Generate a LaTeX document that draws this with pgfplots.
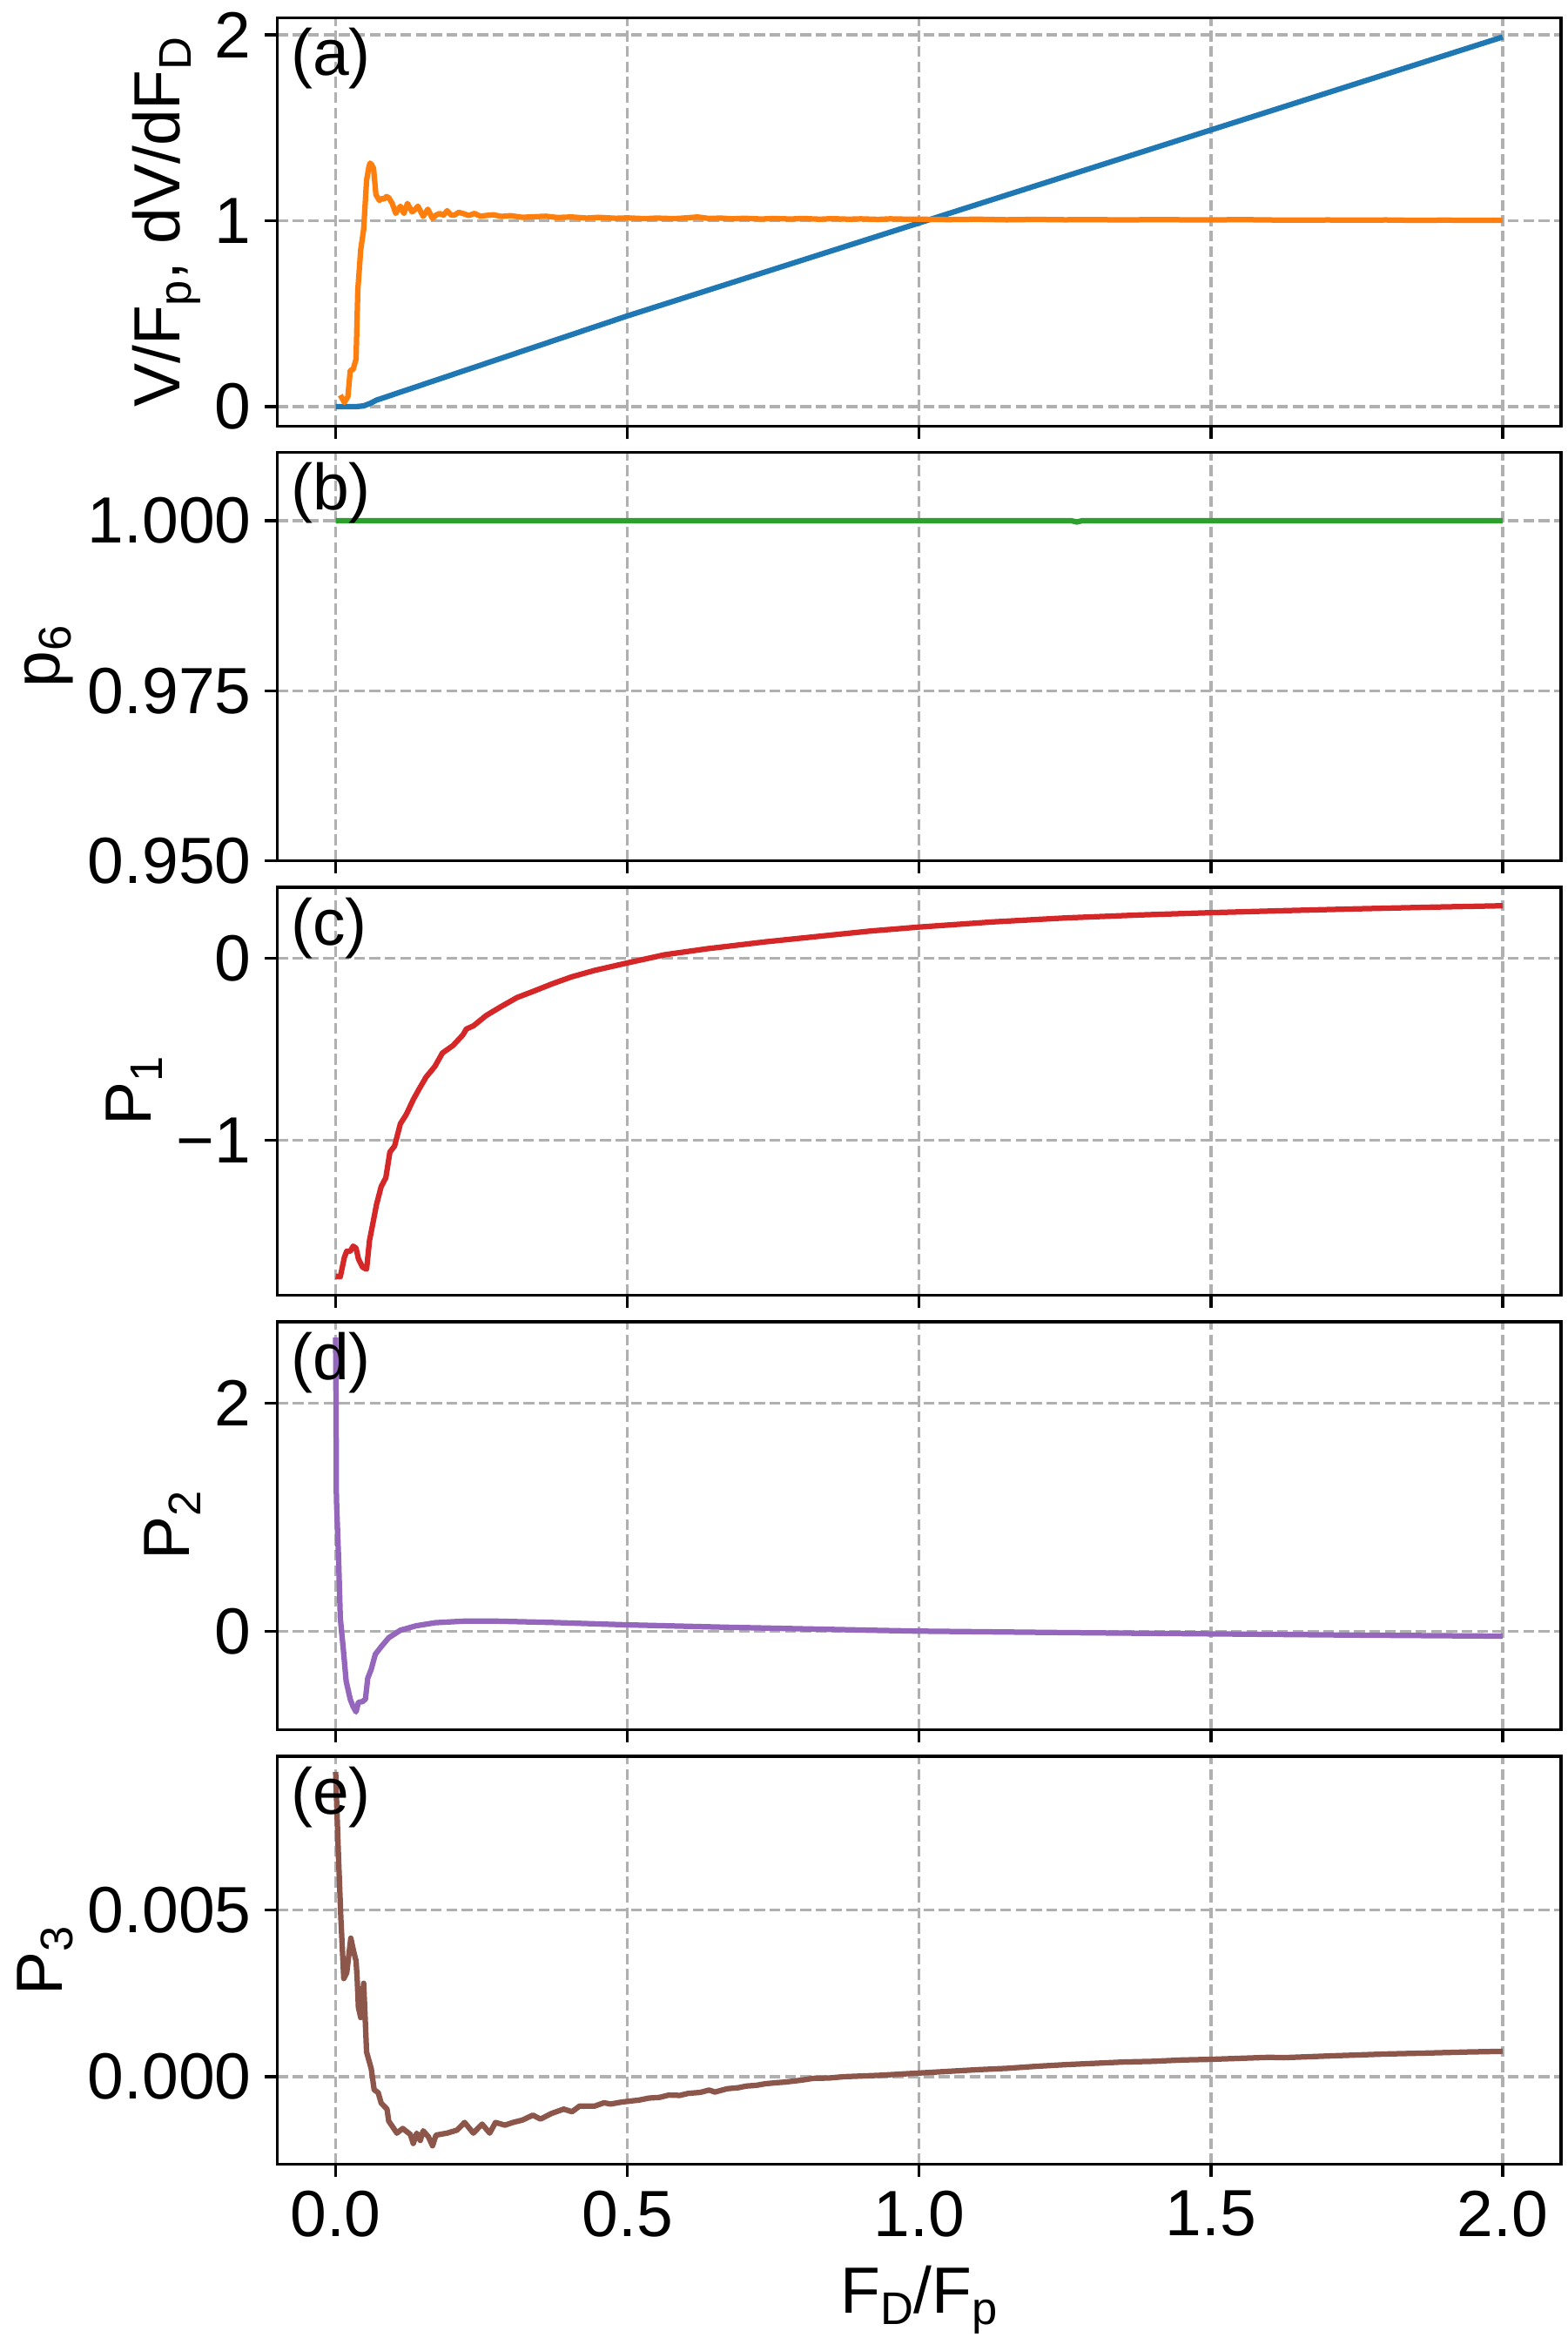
\documentclass[border=0pt]{standalone}
\usepackage{fontspec}
\setmainfont{Liberation Sans}
\usepackage{pgfplots}
\pgfplotsset{compat=1.18}
\definecolor{tabblue}{HTML}{1F77B4}
\definecolor{taborange}{HTML}{FF7F0E}
\definecolor{tabgreen}{HTML}{2CA02C}
\definecolor{tabred}{HTML}{D62728}
\definecolor{tabpurple}{HTML}{9467BD}
\definecolor{tabbrown}{HTML}{8C564B}
\definecolor{gridgray}{HTML}{B0B0B0}
\newcommand\sub[1]{\raisebox{-3bp}{\fontsize{12.6bp}{12.6bp}\selectfont #1}}
\newcommand\figfont{\fontsize{18bp}{21.6bp}\selectfont}
\tikzset{plab/.style={anchor=north west, inner sep=0pt, font=\figfont, yshift=-2.64bp}}
\pgfplotsset{
  panel/.style={
    scale only axis, width=353.88bp, height=112.49bp,
    xmin=-0.1, xmax=2.1,
    xtick={0,0.5,1,1.5,2},
    xticklabels={},
    tick pos=left, tick align=outside,
    major tick length=3.5bp,
    every tick/.style={black, line width=0.8bp},
    axis line style={line width=0.8bp},
    grid=major,
    major grid style={gridgray, line width=0.8bp, dash pattern=on 2.96bp off 1.28bp},
    tick label style={font=\figfont},
    label style={font=\figfont},
    yticklabel style={anchor=east, inner sep=0pt, xshift=-3.5bp},
    xticklabel style={anchor=north, inner sep=0pt, yshift=-3.5bp},
    ylabel style={inner sep=0pt, outer sep=4bp},
    xlabel style={inner sep=0pt, outer sep=8bp},
    every axis plot/.append style={line width=1.5bp, line join=round, mark=none},
  },
}
\begin{document}
\begin{tikzpicture}
% (a)
\begin{axis}[panel, at={(0,0)}, anchor=north west,
  ymin=-0.105, ymax=2.09, ytick={0,1,2}, yticklabels={0,1,2},
  ylabel={V/F\sub{p}, dV/dF\sub{D}}]
\addplot[tabblue] coordinates {(0,0) (0.035,0.0) (0.048,0.004) (0.058,0.016) (0.07,0.035) (0.2,0.172) (0.5,0.488) (1.0,0.988) (1.5,1.488) (2.0,1.988)};
\addplot[taborange] coordinates {(0.008,0.062) (0.015,0.023) (0.021,0.054) (0.025,0.194) (0.030,0.20) (0.035,0.256) (0.038,0.628) (0.043,0.845) (0.048,0.953) (0.053,1.217) (0.057,1.29) (0.059,1.31) (0.062,1.30) (0.065,1.28) (0.069,1.14) (0.075,1.109) (0.079,1.12) (0.083,1.116) (0.087,1.13) (0.091,1.124) (0.097,1.093) (0.103,1.039) (0.107,1.06) (0.111,1.078) (0.117,1.039) (0.123,1.093) (0.131,1.047) (0.136,1.06) (0.141,1.078) (0.150,1.023) (0.158,1.062) (0.166,1.012) (0.172,1.03) (0.178,1.039) (0.185,1.03) (0.191,1.054) (0.198,1.03) (0.204,1.031) (0.211,1.045) (0.218,1.039) (0.228,1.028) (0.238,1.039) (0.248,1.024) (0.258,1.028) (0.27,1.032) (0.284,1.023) (0.3,1.027) (0.32,1.018) (0.338,1.021) (0.36,1.024) (0.38,1.017) (0.404,1.02) (0.43,1.014) (0.45,1.018) (0.48,1.013) (0.5,1.015) (0.53,1.011) (0.55,1.014) (0.58,1.011) (0.6,1.015) (0.62,1.02) (0.64,1.012) (0.66,1.014) (0.68,1.01) (0.7,1.013) (0.73,1.009) (0.75,1.012) (0.78,1.009) (0.8,1.012) (0.83,1.008) (0.85,1.011) (0.88,1.008) (0.9,1.01) (0.93,1.007) (0.95,1.01) (0.98,1.008) (1.0,1.008) (1.05,1.006) (1.1,1.008) (1.15,1.005) (1.2,1.007) (1.25,1.005) (1.3,1.006) (1.35,1.004) (1.4,1.006) (1.45,1.005) (1.5,1.004) (1.55,1.006) (1.6,1.004) (1.65,1.003) (1.7,1.004) (1.75,1.003) (1.8,1.004) (1.85,1.002) (1.9,1.003) (1.95,1.002) (2.0,1.002)};
\node[plab] at (rel axis cs:0.01,1) {(a)};
\end{axis}
% (b)
\begin{axis}[panel, at={(0,-119.78bp)}, anchor=north west,
  ymin=0.95, ymax=1.01, ytick={0.95,0.975,1.0}, yticklabels={0.950,0.975,1.000},
  ylabel={p\sub{6}}]
\addplot[tabgreen] coordinates {(0,1.0) (0.5,1.0) (1.0,1.0) (1.26,1.0) (1.27,0.9998) (1.28,1.0) (1.5,1.0) (2.0,1.0)};
\node[plab] at (rel axis cs:0.01,1) {(b)};
\end{axis}
% (c)
\begin{axis}[panel, at={(0,-239.56bp)}, anchor=north west,
  ymin=-1.851, ymax=0.391, ytick={-1,0}, yticklabels={−1,0},
  ylabel={P\sub{1}}]
\addplot[tabred] coordinates {(0,-1.746) (0.008,-1.749) (0.015,-1.642) (0.019,-1.609) (0.025,-1.609) (0.030,-1.581) (0.035,-1.592) (0.039,-1.650) (0.046,-1.696) (0.053,-1.708) (0.058,-1.551) (0.065,-1.436) (0.070,-1.353) (0.078,-1.254) (0.086,-1.205) (0.093,-1.064) (0.101,-1.031) (0.111,-0.908) (0.121,-0.858) (0.133,-0.776) (0.143,-0.718) (0.155,-0.652) (0.170,-0.594) (0.183,-0.520) (0.201,-0.479) (0.218,-0.421) (0.224,-0.388) (0.236,-0.371) (0.258,-0.314) (0.284,-0.264) (0.311,-0.215) (0.338,-0.182) (0.371,-0.140) (0.404,-0.102) (0.444,-0.066) (0.5,-0.025) (0.564,0.020) (0.637,0.053) (0.737,0.091) (0.837,0.124) (0.916,0.150) (1.0,0.172) (1.125,0.200) (1.25,0.222) (1.375,0.238) (1.5,0.251) (1.625,0.262) (1.75,0.272) (1.875,0.281) (2.0,0.289)};
\node[plab] at (rel axis cs:0.01,1) {(c)};
\end{axis}
% (d)
\begin{axis}[panel, at={(0,-359.34bp)}, anchor=north west,
  ymin=-0.866, ymax=2.713, ytick={0,2}, yticklabels={0,2},
  ylabel={P\sub{2}}]
\addplot[tabpurple] coordinates {(0,2.574) (0.0007,1.955) (0.0013,1.166) (0.005,0.639) (0.008,0.113) (0.013,-0.150) (0.018,-0.439) (0.025,-0.597) (0.030,-0.663) (0.035,-0.708) (0.039,-0.624) (0.046,-0.618) (0.051,-0.597) (0.055,-0.413) (0.061,-0.334) (0.068,-0.203) (0.078,-0.137) (0.091,-0.058) (0.111,0.008) (0.138,0.047) (0.171,0.074) (0.218,0.087) (0.271,0.088) (0.371,0.076) (0.5,0.055) (0.67,0.034) (0.916,0.008) (1.0,0.0) (1.25,-0.013) (1.5,-0.024) (1.75,-0.035) (2.0,-0.044)};
\node[plab] at (rel axis cs:0.01,1) {(d)};
\end{axis}
% (e)
\begin{axis}[panel, at={(0,-479.12bp)}, anchor=north west,
  ymin=-0.00263, ymax=0.009596, ytick={0,0.005}, yticklabels={0.000,0.005},
  scaled y ticks=false,
  xticklabels={0.0,0.5,1.0,1.5,2.0},
  xlabel={F\sub{D}/F\sub{p}},
  ylabel={P\sub{3}}]
\addplot[tabbrown] coordinates {(0,0.00913) (0.005,0.00653) (0.009,0.00473) (0.014,0.00294) (0.019,0.00311) (0.026,0.00415) (0.031,0.00374) (0.035,0.00347) (0.037,0.00290) (0.039,0.00208) (0.043,0.00177) (0.048,0.00280) (0.051,0.00159) (0.053,0.00074) (0.061,0.00024) (0.066,-0.00039) (0.073,-0.00048) (0.078,-0.00079) (0.088,-0.00097) (0.091,-0.00133) (0.105,-0.00169) (0.115,-0.00155) (0.128,-0.00173) (0.133,-0.00200) (0.139,-0.00169) (0.145,-0.00191) (0.150,-0.00162) (0.159,-0.00180) (0.166,-0.00207) (0.172,-0.00175) (0.191,-0.00169) (0.208,-0.00160) (0.221,-0.00137) (0.236,-0.00169) (0.251,-0.00142) (0.264,-0.00169) (0.274,-0.00137) (0.29,-0.00145) (0.304,-0.00137) (0.32,-0.00130) (0.338,-0.00115) (0.351,-0.00127) (0.37,-0.00110) (0.391,-0.00097) (0.405,-0.00105) (0.418,-0.00088) (0.444,-0.00088) (0.46,-0.00078) (0.471,-0.00082) (0.49,-0.00076) (0.5,-0.00074) (0.52,-0.00070) (0.537,-0.00064) (0.555,-0.00062) (0.571,-0.00055) (0.59,-0.00056) (0.604,-0.00050) (0.625,-0.00047) (0.64,-0.00040) (0.65,-0.00046) (0.671,-0.00036) (0.69,-0.00033) (0.704,-0.00028) (0.72,-0.00026) (0.737,-0.00021) (0.755,-0.00018) (0.771,-0.00016) (0.8,-0.00010) (0.818,-0.00005) (0.845,-0.00004) (0.871,0.0) (0.9,0.00002) (0.93,0.00004) (0.96,0.00007) (1.0,0.00011) (1.05,0.00016) (1.1,0.00021) (1.15,0.00025) (1.2,0.00031) (1.25,0.00036) (1.3,0.00040) (1.35,0.00044) (1.4,0.00046) (1.45,0.00050) (1.5,0.00052) (1.55,0.00055) (1.6,0.00058) (1.625,0.00057) (1.7,0.00062) (1.75,0.00065) (1.8,0.00068) (1.875,0.00071) (1.94,0.00074) (2.0,0.00076)};
\node[plab] at (rel axis cs:0.01,1) {(e)};
\end{axis}
\pgfresetboundingbox
\path (-76.44bp,4.97bp) rectangle (355.56bp,-643.03bp);
\end{tikzpicture}
\end{document}
